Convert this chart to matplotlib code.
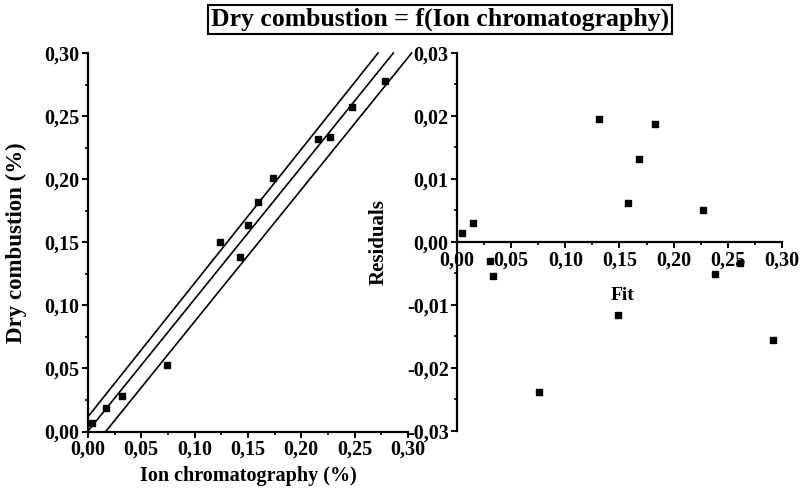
import numpy as np
import matplotlib
matplotlib.use("Agg")
import matplotlib.pyplot as plt
from matplotlib.ticker import MultipleLocator, FuncFormatter

plt.rcParams['font.family'] = ['Liberation Serif', 'DejaVu Serif']
plt.rcParams['font.weight'] = 'bold'
plt.rcParams['axes.unicode_minus'] = False

# Ion chromatography vs dry combustion (%)
ion = [0.0034, 0.0166, 0.0322, 0.0738, 0.1238, 0.1425, 0.1497, 0.1597,
       0.1738, 0.2159, 0.2269, 0.2472, 0.2784]
dry = [0.0065, 0.0184, 0.0281, 0.0527, 0.1504, 0.1381, 0.1637, 0.1821,
       0.2012, 0.2316, 0.2337, 0.2574, 0.2778]

# fitted values vs residuals
fit = [0.0043, 0.0150, 0.0305, 0.0332, 0.0760, 0.1311, 0.1489, 0.1576,
       0.1683, 0.1828, 0.2274, 0.2382, 0.2612, 0.2920]
resid = [0.0015, 0.0030, -0.0030, -0.0054, -0.0238, 0.0196, -0.0116, 0.0062,
         0.0132, 0.0187, 0.0050, -0.0051, -0.0034, -0.0156]

# regression line and bands: (slope, intercept)
slopes = [1.0603, 1.047, 1.046]
intercepts = [0.0117, 0.0003, -0.0174]

def comma(v, pos):
    return ("%.2f" % v).replace('.', ',')

fig = plt.figure(figsize=(8.02, 4.93), dpi=100)
ax1 = fig.add_axes([0.1097, 0.1247, 0.399, 0.7677])
ax2 = fig.add_axes([0.5698, 0.1258, 0.4052, 0.7667])

for ax in (ax1, ax2):
    ax.spines['top'].set_visible(False)
    ax.spines['right'].set_visible(False)
    ax.spines['left'].set_linewidth(1.6)
    ax.spines['bottom'].set_linewidth(1.6)
    ax.tick_params(which='major', direction='out', length=4, width=1.4,
                   labelsize=14.5, pad=2)
    ax.tick_params(which='minor', direction='out', length=2.5, width=1.2)
    ax.xaxis.set_major_formatter(FuncFormatter(comma))
    ax.yaxis.set_major_formatter(FuncFormatter(comma))
    ax.set_facecolor('none')

# left panel
ax1.set_xlim(0, 0.30)
ax1.set_ylim(0, 0.30)
ax1.xaxis.set_major_locator(MultipleLocator(0.05))
ax1.xaxis.set_minor_locator(MultipleLocator(0.025))
ax1.yaxis.set_major_locator(MultipleLocator(0.05))
ax1.yaxis.set_minor_locator(MultipleLocator(0.025))
for m, b in zip(slopes, intercepts):
    x0 = max(0.0, -b / m)
    x1 = (0.30 - b) / m
    ax1.plot([x0, x1], [m * x0 + b, m * x1 + b], color='black', lw=1.2,
             clip_on=False)
ax1.plot(ion, dry, 's', color='black', markersize=5, clip_on=False)
ax1.set_xlabel('Ion chromatography (%)', fontsize=14.5, fontweight='bold')
ax1.set_ylabel('Dry combustion (%)', fontsize=16.5, fontweight='bold')
ax1.xaxis.set_label_coords(0.5, -0.092)
ax1.yaxis.set_label_coords(-0.19, 0.5)

# right panel
ax2.set_xlim(0, 0.30)
ax2.set_ylim(-0.03, 0.03)
ax2.spines['bottom'].set_position(('data', 0))
ax2.xaxis.set_major_locator(MultipleLocator(0.05))
ax2.xaxis.set_minor_locator(MultipleLocator(0.025))
ax2.yaxis.set_major_locator(MultipleLocator(0.01))
ax2.yaxis.set_minor_locator(MultipleLocator(0.005))
ax2.plot(fit, resid, 's', color='black', markersize=5, clip_on=False)
ax2.set_xlabel('Fit', fontsize=14, fontweight='bold')
ax2.set_ylabel('Residuals', fontsize=15, fontweight='bold')
ax2.xaxis.set_label_coords(0.508, 0.38)
ax2.yaxis.set_label_coords(-0.21, 0.5)

fig.text(0.549, 1 - 19.5 / 493, 'Dry combustion = f(Ion chromatography)',
         ha='center', va='center', fontsize=18.5, fontweight='bold',
         bbox=dict(boxstyle='square,pad=0.12', facecolor='white',
                   edgecolor='black', linewidth=1.5))

fig.savefig('out.png', dpi=100)
